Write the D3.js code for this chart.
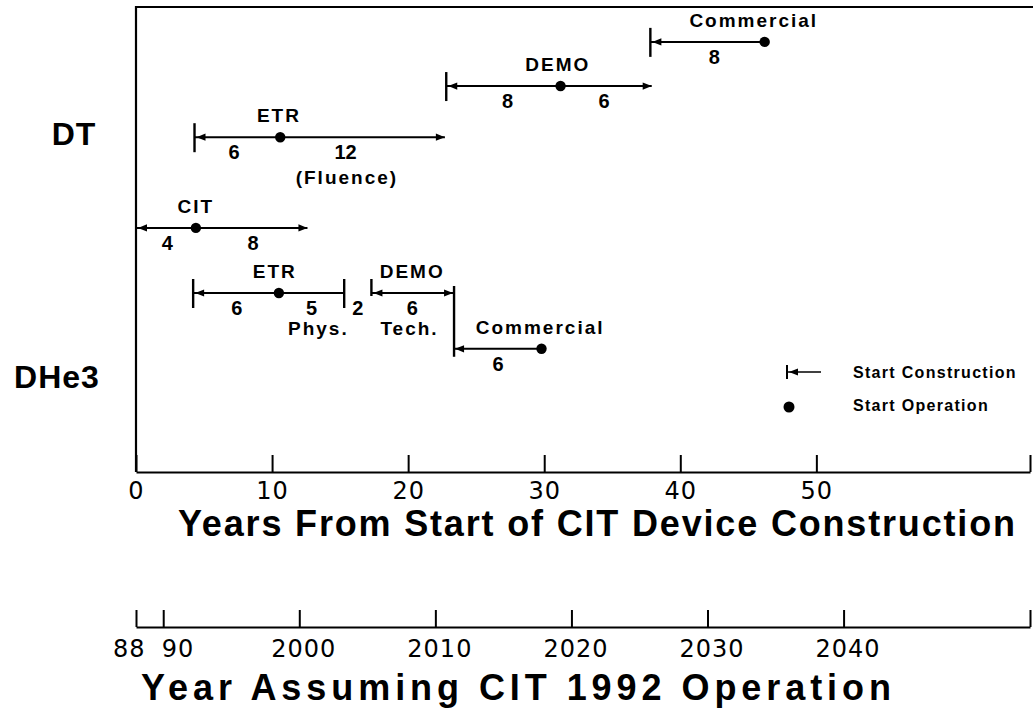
<!DOCTYPE html>
<html>
<head>
<meta charset="utf-8">
<script src="https://cdn.jsdelivr.net/npm/d3@7"></script>
<style>
  html, body { margin: 0; background: #fff; }
  svg { display: block; }
</style>
</head>
<body>
<div id="chart"></div>
<script>
// --- data (years from start of CIT construction) ---
const yearTicks = [0, 10, 20, 30, 40, 50];
const calendarTicks = [1988, 1990, 2000, 2010, 2020, 2030, 2040];
const calendarLabels = ['88', '90', '2000', '2010', '2020', '2030', '2040'];
const axisEnd = 65.7;            // right end of both axes, in years
const calendarStart = 1988;      // year 0 on the calendar axis

const fuels = ['DT', 'DHe3'];
const fuelLevels = [14.05, 3.6];

// rows of the schedule, as levels on the vertical scale
const rowNames = ['dtCommercial', 'dtDemo', 'dtEtr', 'cit', 'he3Etr', 'he3Commercial'];
const rowLevels = [18.5, 16.6, 14.4, 10.5, 7.7, 5.3];

// start construction, start operation, end of phase
const phases = [
  { row: 'cit',           start: 0,    op: 4.4,  end: 12.6, bar: 'none' },
  { row: 'dtEtr',         start: 4.3,  op: 10.6, end: 22.7, bar: 'full' },
  { row: 'dtDemo',        start: 22.8, op: 31.2, end: 37.9, bar: 'full' },
  { row: 'dtCommercial',  start: 37.8, op: 46.2, end: null, bar: 'full' },
  { row: 'he3Etr',        start: 4.2,  op: 10.5, end: 15.3, bar: 'full', endBar: true },
  { row: 'he3Etr',        start: 17.3, op: null, end: 23.3, bar: 'short', drop: 'he3Commercial' },
  { row: 'he3Commercial', start: 23.3, op: 29.8, end: null, bar: 'none' }
];

// phase names, durations and notes
const labels = [
  { row: 'cit',          at: 4.4,  text: 'CIT',        kind: 'name' },
  { row: 'cit',          at: 2.3,  text: '4',          kind: 'num' },
  { row: 'cit',          at: 8.6,  text: '8',          kind: 'num' },
  { row: 'dtEtr',        at: 10.5, text: 'ETR',        kind: 'name' },
  { row: 'dtEtr',        at: 7.2,  text: '6',          kind: 'num' },
  { row: 'dtEtr',        at: 15.4, text: '12',         kind: 'num' },
  { row: 'dtEtr',        at: 15.5, text: '(Fluence)',  kind: 'note' },
  { row: 'dtDemo',       at: 31.0, text: 'DEMO',       kind: 'name' },
  { row: 'dtDemo',       at: 27.3, text: '8',          kind: 'num' },
  { row: 'dtDemo',       at: 34.4, text: '6',          kind: 'num' },
  { row: 'dtCommercial', at: 45.4, text: 'Commercial', kind: 'name' },
  { row: 'dtCommercial', at: 42.5, text: '8',          kind: 'num' },
  { row: 'he3Etr',       at: 10.2, text: 'ETR',        kind: 'name' },
  { row: 'he3Etr',       at: 7.4,  text: '6',          kind: 'num' },
  { row: 'he3Etr',       at: 12.9, text: '5',          kind: 'num' },
  { row: 'he3Etr',       at: 13.4, text: 'Phys.',      kind: 'note2' },
  { row: 'he3Etr',       at: 16.3, text: '2',          kind: 'num' },
  { row: 'he3Etr',       at: 20.3, text: 'DEMO',       kind: 'name' },
  { row: 'he3Etr',       at: 20.3, text: '6',          kind: 'num' },
  { row: 'he3Etr',       at: 20.1, text: 'Tech.',      kind: 'note2' },
  { row: 'he3Commercial',at: 29.7, text: 'Commercial', kind: 'name' },
  { row: 'he3Commercial',at: 26.6, text: '6',          kind: 'num' }
];

const legendItems = ['Start Construction', 'Start Operation'];

// --- layout ---
const W = 1033, H = 715;
const plot = { left: 136, right: 1030, top: 7, bottom: 472 };
const calAxisY = 627;

const svg = d3.select('#chart').append('svg')
  .attr('width', W).attr('height', H)
  .attr('viewBox', `0 0 ${W} ${H}`);

const x = d3.scaleLinear().domain([0, axisEnd]).range([plot.left, plot.right]);
const xCal = d3.scaleLinear().domain([calendarStart, calendarStart + axisEnd]).range([plot.left, plot.right]);
const y = d3.scaleLinear().domain([0, 20]).range([plot.bottom, plot.top]);
const rowY = r => y(rowLevels[rowNames.indexOf(r)]);

const ink = '#000';
const labelFont = '"Liberation Sans", Arial, sans-serif';
const numFont = '"DejaVu Sans", sans-serif';

// frame: top and left
svg.append('path')
  .attr('d', `M${plot.left},${plot.bottom}V${plot.top}H${W}`)
  .attr('fill', 'none').attr('stroke', ink).attr('stroke-width', 2.2);

// main axis, ticks pointing inward
const xAxis = d3.axisBottom(x)
  .tickValues(yearTicks.concat([axisEnd]))
  .tickSize(-17).tickSizeOuter(0).tickPadding(10)
  .tickFormat(d => d === axisEnd ? '' : d);

svg.append('g')
  .attr('transform', `translate(0,${plot.bottom})`)
  .call(xAxis)
  .call(g => {
    g.select('.domain').attr('stroke', ink).attr('stroke-width', 2.2);
    g.selectAll('.tick line').attr('stroke', ink).attr('stroke-width', 2);
    g.selectAll('.tick text')
      .attr('fill', ink).attr('font-family', numFont)
      .attr('font-size', 24).attr('letter-spacing', 1);
  });

// second axis: calendar years
const calAxis = d3.axisBottom(xCal)
  .tickValues(calendarTicks.concat([calendarStart + axisEnd]))
  .tickSize(-17).tickSizeOuter(0).tickPadding(13)
  .tickFormat(d => {
    const i = calendarTicks.indexOf(d);
    return i < 0 ? '' : calendarLabels[i];
  });

svg.append('g')
  .attr('transform', `translate(0,${calAxisY})`)
  .call(calAxis)
  .call(g => {
    g.select('.domain').attr('stroke', ink).attr('stroke-width', 2);
    g.selectAll('.tick line').attr('stroke', ink).attr('stroke-width', 2);
    g.selectAll('.tick text')
      .attr('fill', ink).attr('font-family', numFont)
      .attr('font-size', 24).attr('letter-spacing', 1)
      .attr('text-anchor', d => d === 1988 ? 'end' : d === 1990 ? 'start' : 'middle')
      .attr('dx', d => d === 1988 ? 9 : d === 1990 ? -2 : 4);
  });

// axis titles
svg.append('text')
  .attr('x', 178).attr('y', 536)
  .attr('textLength', 837).attr('lengthAdjust', 'spacing')
  .attr('font-family', labelFont).attr('font-weight', 'bold').attr('font-size', 36)
  .attr('fill', ink)
  .text('Years From Start of CIT Device Construction');

svg.append('text')
  .attr('x', 141).attr('y', 700)
  .attr('textLength', 750).attr('lengthAdjust', 'spacing')
  .attr('font-family', labelFont).attr('font-weight', 'bold').attr('font-size', 36)
  .attr('fill', ink)
  .text('Year Assuming CIT 1992 Operation');

// fuel cycle labels
svg.append('g').selectAll('text')
  .data(fuels)
  .join('text')
  .attr('x', (d, i) => i === 0 ? 74 : 57)
  .attr('y', (d, i) => y(fuelLevels[i]))
  .attr('text-anchor', 'middle')
  .attr('font-family', labelFont).attr('font-weight', 'bold').attr('font-size', 32)
  .attr('letter-spacing', 1)
  .attr('fill', ink)
  .text(d => d);

// --- schedule marks ---
const gMarks = svg.append('g').attr('class', 'marks');
const arrow = (tipX, yy, dir) => {
  const len = 9, hw = 3.6;
  return `M${tipX},${yy}L${tipX - dir * len},${yy - hw}L${tipX - dir * len},${yy + hw}Z`;
};

phases.forEach(p => {
  const yy = rowY(p.row);
  const x0 = x(p.start);
  const x1 = x(p.end != null ? p.end : p.op);

  gMarks.append('line')
    .attr('x1', x0).attr('x2', x1).attr('y1', yy).attr('y2', yy)
    .attr('stroke', ink).attr('stroke-width', 2);

  if (p.bar === 'full') {
    gMarks.append('line')
      .attr('x1', x0).attr('x2', x0).attr('y1', yy - 14).attr('y2', yy + 15)
      .attr('stroke', ink).attr('stroke-width', 2.4);
  } else if (p.bar === 'short') {
    gMarks.append('line')
      .attr('x1', x0).attr('x2', x0).attr('y1', yy - 14).attr('y2', yy + 3)
      .attr('stroke', ink).attr('stroke-width', 2.4);
  }

  // arrow toward start of construction
  gMarks.append('path').attr('d', arrow(x0 + 2, yy, -1)).attr('fill', ink);

  if (p.end != null) {
    if (p.endBar) {
      gMarks.append('line')
        .attr('x1', x1).attr('x2', x1).attr('y1', yy - 14).attr('y2', yy + 15)
        .attr('stroke', ink).attr('stroke-width', 2.4);
    } else {
      gMarks.append('path').attr('d', arrow(x1, yy, 1)).attr('fill', ink);
    }
  }

  if (p.drop) {
    gMarks.append('line')
      .attr('x1', x1 + 1).attr('x2', x1 + 1)
      .attr('y1', yy - 7).attr('y2', rowY(p.drop) + 8)
      .attr('stroke', ink).attr('stroke-width', 2.4);
  }

  if (p.op != null) {
    gMarks.append('circle')
      .attr('cx', x(p.op)).attr('cy', yy).attr('r', 5.2)
      .attr('fill', ink);
  }
});

const labelDy = { name: -15, num: 22, note: 47, note2: 42 };
svg.append('g').selectAll('text')
  .data(labels)
  .join('text')
  .attr('x', d => x(d.at))
  .attr('y', d => rowY(d.row) + labelDy[d.kind])
  .attr('text-anchor', 'middle')
  .attr('font-family', labelFont).attr('font-weight', 'bold')
  .attr('font-size', d => d.kind === 'num' ? 20 : 19)
  .attr('letter-spacing', d => d.kind === 'num' ? 0 : 2)
  .attr('fill', ink)
  .text(d => d.text);

// --- legend ---
const lg = svg.append('g').attr('transform', 'translate(787,372)');
lg.append('line').attr('x1', 0).attr('x2', 0).attr('y1', -7).attr('y2', 7)
  .attr('stroke', ink).attr('stroke-width', 2);
lg.append('line').attr('x1', 0).attr('x2', 34).attr('y1', 0).attr('y2', 0)
  .attr('stroke', ink).attr('stroke-width', 1.6);
lg.append('path').attr('d', arrow(2, 0, -1)).attr('fill', ink);
lg.append('circle').attr('cx', 2).attr('cy', 35).attr('r', 5.5).attr('fill', ink);

lg.selectAll('text')
  .data(legendItems)
  .join('text')
  .attr('x', 66)
  .attr('y', (d, i) => 6 + i * 33)
  .attr('font-family', labelFont).attr('font-weight', 'bold').attr('font-size', 16)
  .attr('letter-spacing', 1.3)
  .attr('fill', ink)
  .text(d => d);
</script>
</body>
</html>
